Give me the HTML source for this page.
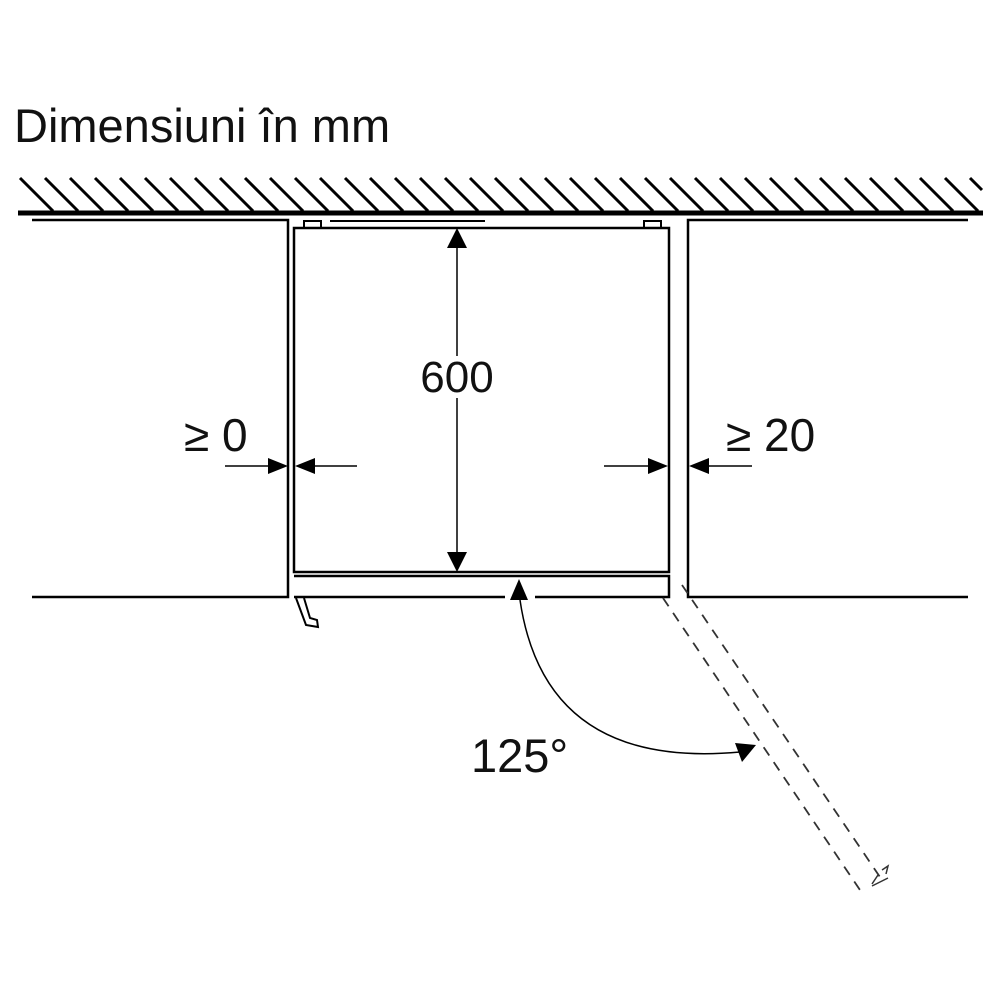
<!DOCTYPE html>
<html><head><meta charset="utf-8"><style>html,body{margin:0;padding:0;background:#fff}svg{display:block}</style></head><body>
<svg width="1000" height="1000" viewBox="0 0 1000 1000" xmlns="http://www.w3.org/2000/svg" font-family="Liberation Sans, sans-serif">
<text x="14" y="142" font-size="47" fill="#111">Dimensiuni în mm</text>
<g stroke="#000" stroke-width="3">
<path d="M20,178 L53,211 M45,178 L78,211 M70,178 L103,211 M95,178 L128,211 M120,178 L153,211 M145,178 L178,211 M170,178 L203,211 M195,178 L228,211 M220,178 L253,211 M245,178 L278,211 M270,178 L303,211 M295,178 L328,211 M320,178 L353,211 M345,178 L378,211 M370,178 L403,211 M395,178 L428,211 M420,178 L453,211 M445,178 L478,211 M470,178 L503,211 M495,178 L528,211 M520,178 L553,211 M545,178 L578,211 M570,178 L603,211 M595,178 L628,211 M620,178 L653,211 M645,178 L678,211 M670,178 L703,211 M695,178 L728,211 M720,178 L753,211 M745,178 L778,211 M770,178 L803,211 M795,178 L828,211 M820,178 L853,211 M845,178 L878,211 M870,178 L903,211 M895,178 L928,211 M920,178 L953,211 M945,178 L978,211 M970,178 L982,190"/>
</g>
<line x1="18" y1="213" x2="983" y2="213" stroke="#000" stroke-width="5"/>
<g fill="none" stroke="#000" stroke-width="2.5">
<path d="M32,220 H288 V597 H32"/>
<path d="M968,220 H688 V597 H968"/>
<rect x="294" y="228" width="375" height="344"/>
<rect x="304" y="221" width="17" height="7" stroke-width="2"/>
<rect x="644" y="221" width="17" height="7" stroke-width="2"/>
<line x1="330" y1="221" x2="485" y2="221" stroke-width="2"/>
<path d="M294,576 H669 V597 H535 M505,597 H294 Z"/>
<path d="M296,598 L306,625 L318,627 L317,620 L310,618 L304,598" stroke-width="2"/>
<line x1="457" y1="245" x2="457" y2="555" stroke-width="1.5"/>
<line x1="225" y1="466" x2="272" y2="466" stroke-width="1.5"/>
<line x1="312" y1="466" x2="357" y2="466" stroke-width="1.5"/>
<line x1="604" y1="466" x2="652" y2="466" stroke-width="1.5"/>
<line x1="706" y1="466" x2="752" y2="466" stroke-width="1.5"/>
<path d="M520,600 Q545,770 740,752" stroke-width="1.5"/>
<g stroke-width="1.8" stroke-dasharray="10,8" stroke="#333">
<line x1="663" y1="598" x2="862" y2="893"/>
<line x1="682" y1="585" x2="882" y2="880"/>
</g>
<path d="M872,884 L878,875 M882,870 L888,866 L886,874 M872,886 L888,878" stroke-width="1.5" stroke="#333"/>
</g>
<g fill="#000">
<polygon points="457,228 447,248 467,248"/>
<polygon points="457,572 447,552 467,552"/>
<polygon points="288,466 268,458 268,474"/>
<polygon points="295,466 315,458 315,474"/>
<polygon points="668,466 648,458 648,474"/>
<polygon points="689,466 709,458 709,474"/>
<polygon points="519,579 510,600 528,600"/>
<polygon points="756,745 735,743 742,762"/>
</g>
<rect x="418" y="356" width="80" height="42" fill="#fff"/>
<text x="457" y="392" font-size="44" text-anchor="middle" fill="#111">600</text>
<text x="184" y="451" font-size="46" fill="#111">≥ 0</text>
<text x="726" y="451" font-size="46" fill="#111">≥ 20</text>
<text x="471" y="772" font-size="47" fill="#111">125°</text>
</svg>
</body></html>
